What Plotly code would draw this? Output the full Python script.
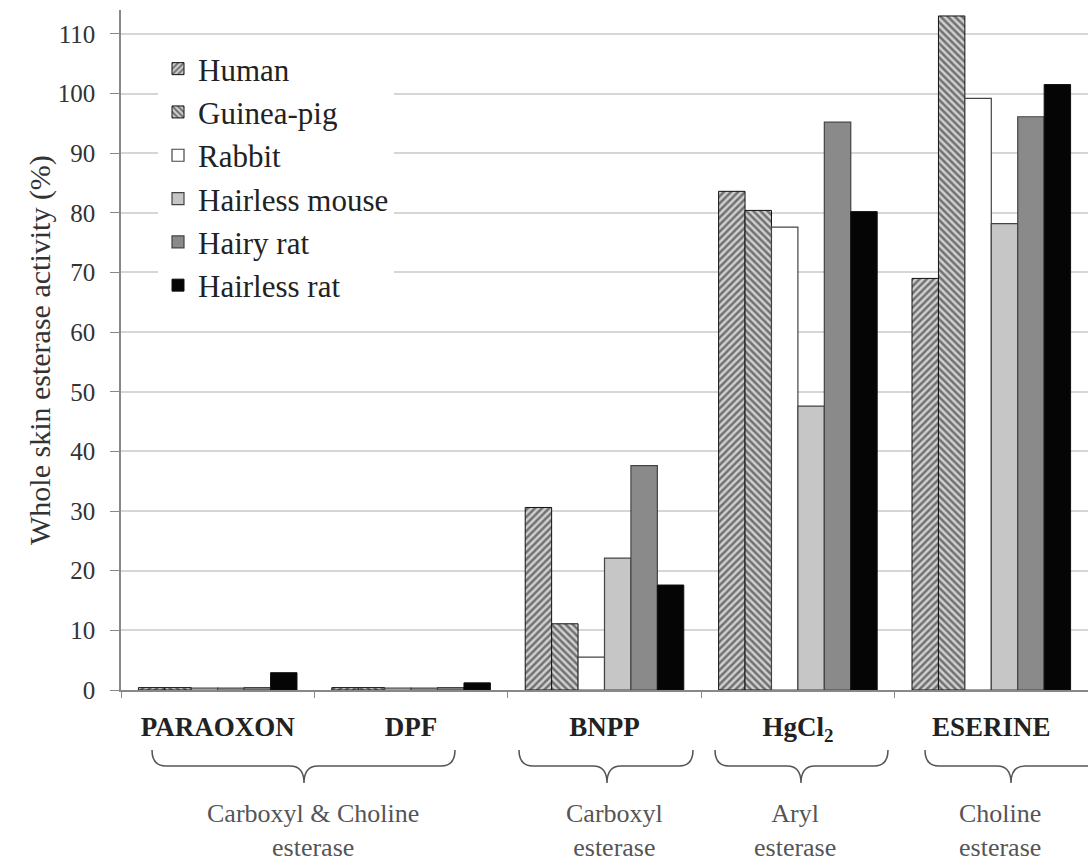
import plotly.graph_objects as go

categories = ["PARAOXON", "DPF", "BNPP", "HgCl<sub>2</sub>", "ESERINE"]
species = ["Human", "Guinea-pig", "Rabbit", "Hairless mouse", "Hairy rat", "Hairless rat"]

human = [0.4, 0.4, 30.6, 83.6, 69.0]
guinea_pig = [0.4, 0.4, 11.1, 80.4, 113.0]
rabbit = [0.3, 0.3, 5.5, 77.6, 99.2]
hairless_mouse = [0.3, 0.3, 22.1, 47.6, 78.2]
hairy_rat = [0.4, 0.4, 37.6, 95.2, 96.1]
hairless_rat = [2.9, 1.2, 17.6, 80.2, 101.5]

series = [human, guinea_pig, rabbit, hairless_mouse, hairy_rat, hairless_rat]

group_labels = ["Carboxyl &amp; Choline<br>esterase", "Carboxyl<br>esterase", "Aryl<br>esterase", "Choline<br>esterase"]

y_ticks = list(range(0, 111, 10))

# figure geometry (pixels)
W, H = 1088, 861
L, R, T, B = 121, 0, 10, 171
PW, PH = W - L - R, H - T - B

def px_x(x):
    return (x - L) / PW

def px_y(y):
    return (H - B - y) / PH

styles = [
    dict(color="white", pattern=dict(shape="/", fgcolor="#111", bgcolor="#d0d0d0", size=5, solidity=0.5), line=dict(color="#111", width=1)),
    dict(color="white", pattern=dict(shape="\\", fgcolor="#111", bgcolor="#d0d0d0", size=5, solidity=0.5), line=dict(color="#111", width=1)),
    dict(color="white", line=dict(color="#444", width=1.2)),
    dict(color="#c6c6c6", line=dict(color="#444", width=1.2)),
    dict(color="#8a8a8a", line=dict(color="#444", width=1.2)),
    dict(color="#050505", line=dict(color="#111", width=1)),
]

serif = "Liberation Serif, Times New Roman, serif"

fig = go.Figure()
for name, vals, st in zip(species, series, styles):
    fig.add_trace(go.Bar(x=categories, y=vals, marker=st, name=name))

fig.update_layout(
    width=W, height=H,
    margin=dict(l=L, r=R, t=T, b=B),
    paper_bgcolor="white", plot_bgcolor="white",
    barmode="group", bargap=0.18, bargroupgap=0,
    font=dict(family=serif, size=22, color="#333"),
    showlegend=True,
    legend=dict(x=px_x(158), y=px_y(42), xanchor="left", yanchor="top",
                bgcolor="white", font=dict(family=serif, size=31, color="#222"),
                traceorder="normal", itemwidth=30),
    xaxis=dict(showline=True, linecolor="#888", linewidth=1.5,
               ticks="outside", tickson="boundaries", ticklen=6, tickcolor="#888",
               tickfont=dict(family=serif, size=27, color="#222", weight="bold"),
               ticklabelstandoff=12, showgrid=False),
    yaxis=dict(range=[0, 114], tickvals=y_ticks, showline=True, linecolor="#888", linewidth=1.5,
               ticks="outside", ticklen=9, tickcolor="#888",
               showgrid=True, gridcolor="#d6d6d6", gridwidth=2,
               tickfont=dict(family=serif, size=25, color="#333"),
               ticklabelstandoff=10, zeroline=False),
)

# y-axis title
fig.add_annotation(text="Whole skin esterase activity (%)", xref="paper", yref="paper",
                   x=px_x(40), y=px_y(350), textangle=-90, showarrow=False,
                   font=dict(family=serif, size=30, color="#333"), xanchor="center", yanchor="middle")

# braces: (left, centre, right) in pixels
braces = [(152, 304, 455), (519, 607, 693), (715, 801, 888), (925, 1011, 1100)]
label_x = [313, 614, 795, 1000]
y_top, y_line, y_bot = 750, 766, 783
for (x0, xc, x1), lx, txt in zip(braces, label_x, group_labels):
    a, c, b = px_x(x0), px_x(xc), px_x(x1)
    yt, yl, yb = px_y(y_top), px_y(y_line), px_y(y_bot)
    d = 14 / PW
    path = (f"M {a},{yt} Q {a},{yl} {a+d},{yl} L {c-d},{yl} Q {c},{yl} {c},{yb} "
            f"Q {c},{yl} {c+d},{yl} L {b-d},{yl} Q {b},{yl} {b},{yt}")
    fig.add_shape(type="path", path=path, xref="paper", yref="paper",
                  line=dict(color="#555", width=1.5))
    fig.add_annotation(text=txt, xref="paper", yref="paper", x=px_x(lx), y=px_y(797),
                       showarrow=False, xanchor="center", yanchor="top",
                       font=dict(family=serif, size=26, color="#555"))

fig.write_html("out.html")
